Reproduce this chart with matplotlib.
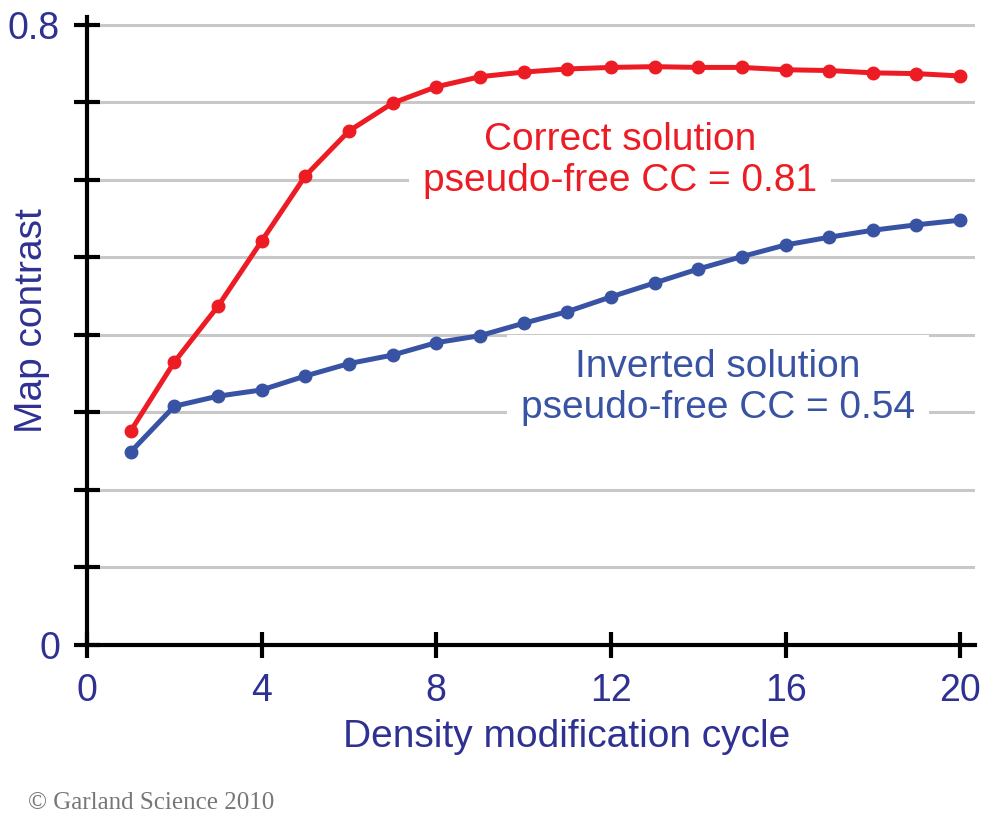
import matplotlib
matplotlib.use("Agg")
import matplotlib.pyplot as plt

# Daten
cycles = list(range(1, 21))
correct = [0.276, 0.365, 0.437, 0.521, 0.605, 0.663, 0.699, 0.720, 0.733, 0.739,
           0.743, 0.745, 0.746, 0.745, 0.745, 0.742, 0.741, 0.738, 0.737, 0.734]
inverted = [0.249, 0.308, 0.321, 0.329, 0.347, 0.363, 0.374, 0.390, 0.399, 0.415,
            0.430, 0.449, 0.467, 0.485, 0.501, 0.516, 0.526, 0.535, 0.542, 0.548]
xticks = [0, 4, 8, 12, 16, 20]
yticks = [0, 0.1, 0.2, 0.3, 0.4, 0.5, 0.6, 0.7, 0.8]
ytick_labels = ["0", "", "", "", "", "", "", "", "0.8"]

NAVY = "#2e3192"
RED = "#ed1c24"
BLUE = "#3953a4"

plt.rcParams["font.family"] = ["Liberation Sans", "DejaVu Sans"]

fig = plt.figure(figsize=(10, 8.39), dpi=100)
ax = fig.add_axes([0.087, 0.2312, 0.888, 0.7485])

for y in yticks[1:]:
    ax.axhline(y, color="#c8c8c8", lw=2.2, zorder=0)

ax.plot(cycles, correct, color=RED, lw=3.6, marker="o", ms=9, zorder=3)
ax.plot(cycles, inverted, color=BLUE, lw=3.6, marker="o", ms=9, zorder=3)

ax.text(12.2, 0.625, "Correct solution\npseudo-free CC = 0.81", color=RED,
        fontsize=28, ha="center", va="center", linespacing=1.2, zorder=2,
        bbox=dict(facecolor="white", edgecolor="none", pad=10))
ax.text(14.45, 0.332, "Inverted solution\npseudo-free CC = 0.54", color=BLUE,
        fontsize=28, ha="center", va="center", linespacing=1.2, zorder=2,
        bbox=dict(facecolor="white", edgecolor="none", pad=10))

ax.set_xlim(0, 20.34)
ax.set_ylim(0, 0.81)
ax.set_xticks(xticks)
ax.set_yticks(yticks)
ax.set_yticklabels(ytick_labels)

for s in ["top", "right"]:
    ax.spines[s].set_visible(False)
for s in ["left", "bottom"]:
    ax.spines[s].set_linewidth(3)
    ax.spines[s].set_zorder(4)

ax.tick_params(direction="inout", length=19, width=3, color="black",
               labelsize=27, labelcolor=NAVY)
ax.tick_params(axis="x", pad=11)
ax.tick_params(axis="y", pad=10)

ax.set_xlabel("Density modification cycle", fontsize=28, color=NAVY)
ax.xaxis.set_label_coords(0.54, -0.118)
ax.set_ylabel("Map contrast", fontsize=28, color=NAVY)
ax.yaxis.set_label_coords(-0.042, 0.517)

fig.text(0.028, 0.043, "\u00a9 Garland Science 2010", fontsize=18, color="#777777",
         family=["Liberation Serif", "DejaVu Serif"], ha="left", va="center")

fig.savefig("out.png", dpi=100, facecolor="white")
